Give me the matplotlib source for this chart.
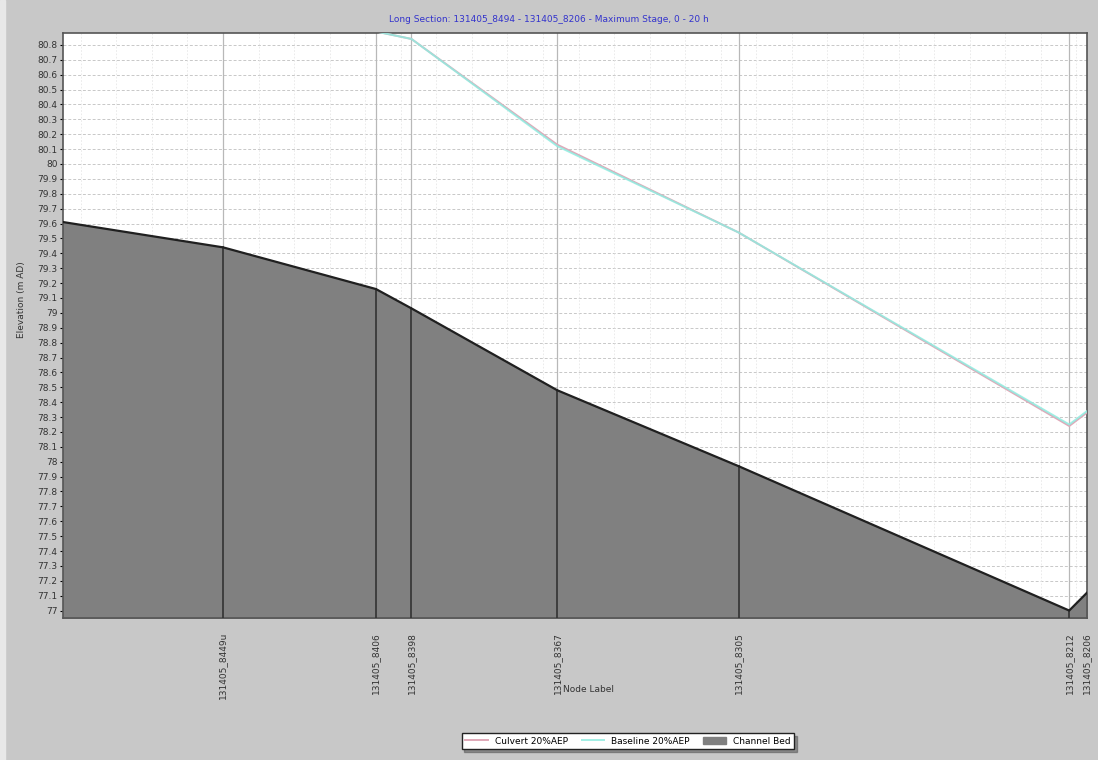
import matplotlib
matplotlib.use("Agg")
import matplotlib.pyplot as plt
import matplotlib.patches as patches
import numpy as np

# Node chainage along the reach (m from upstream end) and labels
nodes = ["131405_8494", "131405_8449u", "131405_8406", "131405_8398",
         "131405_8367", "131405_8305", "131405_8212", "131405_8206"]
chainage = [0, 45, 88, 98, 139, 190, 283, 288]

# Channel bed elevation at each node (m AD)
bed = [79.61, 79.44, 79.16, 79.03, 78.48, 77.97, 77.00, 77.12]

# Maximum stage 0 - 20 h (m AD)
culvert = [81.60, 81.30, 80.89, 80.84, 80.13, 79.54, 78.24, 78.33]
baseline = [81.60, 81.30, 80.89, 80.84, 80.12, 79.54, 78.25, 78.34]

yticks = np.round(np.arange(77.0, 80.81, 0.1), 1)

fig = plt.figure(figsize=(10.98, 7.6), dpi=100)
fig.patch.set_facecolor("#c8c8c8")
ax = fig.add_axes([63 / 1098, 142 / 760, 1024 / 1098, 585 / 760])
ax.set_facecolor("white")

ax.set_xlim(chainage[0], chainage[-1])
ax.set_ylim(76.95, 80.88)

# grid
for y in yticks:
    ax.axhline(y, color="#c8c8c8", lw=0.7, ls=(0, (3, 2)), zorder=1)
for x in np.arange(5, chainage[-1], 10):
    ax.axvline(x, color="#e8e8e8", lw=0.6, ls=(0, (2, 2)), zorder=1)
for x in chainage[1:-1]:
    ax.axvline(x, color="#b8b8b8", lw=0.9, zorder=1)

# channel bed
ax.fill_between(chainage, bed, 76.0, color="#808080", zorder=2,
                label="Channel Bed")
ax.plot(chainage, bed, color="#202020", lw=1.6, zorder=4)
for x, b in zip(chainage[1:-1], bed[1:-1]):
    ax.plot([x, x], [76.0, b], color="#333333", lw=1.2, zorder=3)

# water levels
ax.plot(chainage, culvert, color="#e0a8b8", lw=1.4, zorder=5,
        label="Culvert 20%AEP")
ax.plot(chainage, baseline, color="#90ece0", lw=1.4, zorder=6, alpha=0.85,
        label="Baseline 20%AEP")

ax.set_yticks(yticks)
ax.set_yticklabels([f"{v:g}" for v in yticks], fontsize=6.5, color="#333333")
ax.tick_params(axis="y", length=2, pad=2)
ax.set_xticks(chainage[1:])
ax.set_xticklabels(nodes[1:], rotation=90, fontsize=6.5, color="#333333",
                   va="top")
ax.tick_params(axis="x", length=0, pad=10)

for s in ax.spines.values():
    s.set_color("#555555")
    s.set_linewidth(1.2)

fig.text(0.5, 1 - 20 / 760,
         "Long Section: 131405_8494 - 131405_8206 - Maximum Stage, 0 - 20 h",
         ha="center", va="center", fontsize=6.5, color="#3333cc")
fig.text(22 / 1098, 1 - 300 / 760, "Elevation (m AD)", rotation=90,
         ha="center", va="center", fontsize=6.5, color="#333333")
fig.text(563 / 1098, 1 - 690 / 760, "Node Label",
         ha="left", va="center", fontsize=6.5, color="#333333")

# left light edge of the panel
fig.patches.append(patches.Rectangle((0, 0), 5 / 1098, 1, transform=fig.transFigure,
                                     color="#e8e8e8", zorder=0))

handles, labels = ax.get_legend_handles_labels()
order = [labels.index("Culvert 20%AEP"), labels.index("Baseline 20%AEP"),
         labels.index("Channel Bed")]
leg = fig.legend([handles[i] for i in order], [labels[i] for i in order],
                 loc="center", bbox_to_anchor=(628 / 1098, 1 - 741 / 760),
                 ncol=3, fontsize=6.5, frameon=True, fancybox=False,
                 shadow=True, handlelength=2.5, columnspacing=1.5,
                 borderpad=0.4, handleheight=0.8)
leg.get_frame().set_edgecolor("#222222")
leg.get_frame().set_linewidth(1.0)

fig.savefig("out.png", dpi=100, facecolor=fig.get_facecolor())
